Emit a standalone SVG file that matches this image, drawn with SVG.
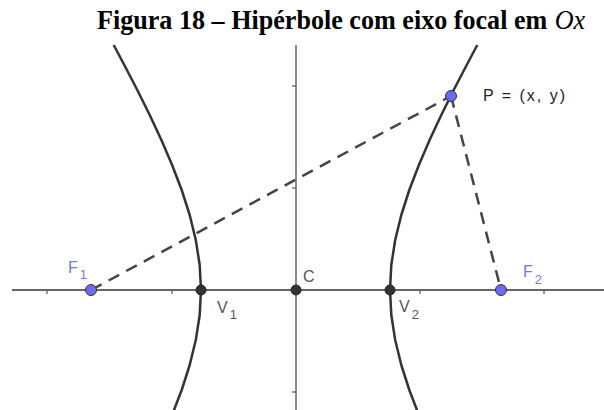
<svg xmlns="http://www.w3.org/2000/svg" width="604" height="410" viewBox="0 0 604 410">
<style>
.title{font-family:"Liberation Serif","Times New Roman",serif;font-size:25px;font-weight:bold;fill:#000}
.it{font-style:italic;font-weight:normal}
.axisx{stroke:#333;stroke-width:1.5;fill:none}
.axisy{stroke:#8a8a8a;stroke-width:2;fill:none}
.tick{stroke:#555;stroke-width:1.2}
.curve{stroke:#333;stroke-width:2.5;fill:none;stroke-linejoin:round}
.dash{stroke:#444;stroke-width:2.5;stroke-dasharray:12 8;fill:none}
.bpt{fill:#6b6bf5;stroke:#333;stroke-width:1}
.dpt{fill:#333;stroke:#222;stroke-width:1}
.lbl{font-family:"Liberation Sans",Arial,sans-serif;font-size:16px}
.blue{fill:#7676ec}
.gray{fill:#555}
.dark{fill:#222}
.sub{font-size:13px}
</style>
<g id="title" transform="translate(97,29) scale(1.045,1.12)">
<text class="title" x="0" y="0">Figura 18 – Hipérbole com eixo focal em</text>
<text class="title it" x="438" y="0">Ox</text>
</g>
<g id="axes">
<line class="axisx" x1="12" y1="290" x2="604" y2="290"/>
<line class="axisy" x1="296" y1="45" x2="296" y2="410"/>
<g id="ticks">
<line class="tick" x1="47" y1="290" x2="47" y2="294"/>
<line class="tick" x1="172" y1="290" x2="172" y2="294"/>
<line class="tick" x1="420" y1="290" x2="420" y2="294"/>
<line class="tick" x1="544" y1="290" x2="544" y2="294"/>
<line class="tick" x1="292" y1="86" x2="296" y2="86"/>
<line class="tick" x1="292" y1="188" x2="296" y2="188"/>
<line class="tick" x1="292" y1="392" x2="296" y2="392"/>
</g>
</g>
<g id="hyperbola">
<path class="curve" d="M113.7,45 L124.3,65 L137.3,90 L149.7,115 L161.4,140 L172.1,165 L181.7,190 L189.7,215 L195.8,240 L199.7,265 L201,290 L199.7,315 L195.8,340 L189.7,365 L181.7,390 L172.1,415"/>
<path class="curve" d="M477.3,45 L466.7,65 L453.7,90 L441.3,115 L429.6,140 L418.9,165 L409.3,190 L401.3,215 L395.2,240 L391.3,265 L390,290 L391.3,315 L395.2,340 L401.3,365 L409.3,390 L418.9,415"/>
</g>
<g id="connectors">
<line class="dash" x1="91" y1="290" x2="451" y2="96"/>
<line class="dash" x1="451" y1="96" x2="501" y2="290"/>
</g>
<g id="F1"><circle class="bpt" cx="91" cy="290" r="5.5"/><text class="lbl blue" x="68" y="273">F<tspan class="sub" dx="2" dy="6">1</tspan></text></g>
<g id="V1"><circle class="dpt" cx="201" cy="290" r="5"/><text class="lbl gray" x="217" y="313">V<tspan class="sub" dx="2" dy="6">1</tspan></text></g>
<g id="C"><circle class="dpt" cx="296" cy="290" r="5"/><text class="lbl gray" x="303" y="282">C</text></g>
<g id="V2"><circle class="dpt" cx="390" cy="290" r="5"/><text class="lbl gray" x="399" y="312">V<tspan class="sub" dx="2" dy="7">2</tspan></text></g>
<g id="F2"><circle class="bpt" cx="501" cy="290" r="5.5"/><text class="lbl blue" x="523" y="277">F<tspan class="sub" dx="2" dy="7">2</tspan></text></g>
<g id="P"><circle class="bpt" cx="451" cy="96" r="5.5"/><text class="lbl dark" x="483" y="101" textLength="82" lengthAdjust="spacing">P = (x, y)</text></g>
</svg>
